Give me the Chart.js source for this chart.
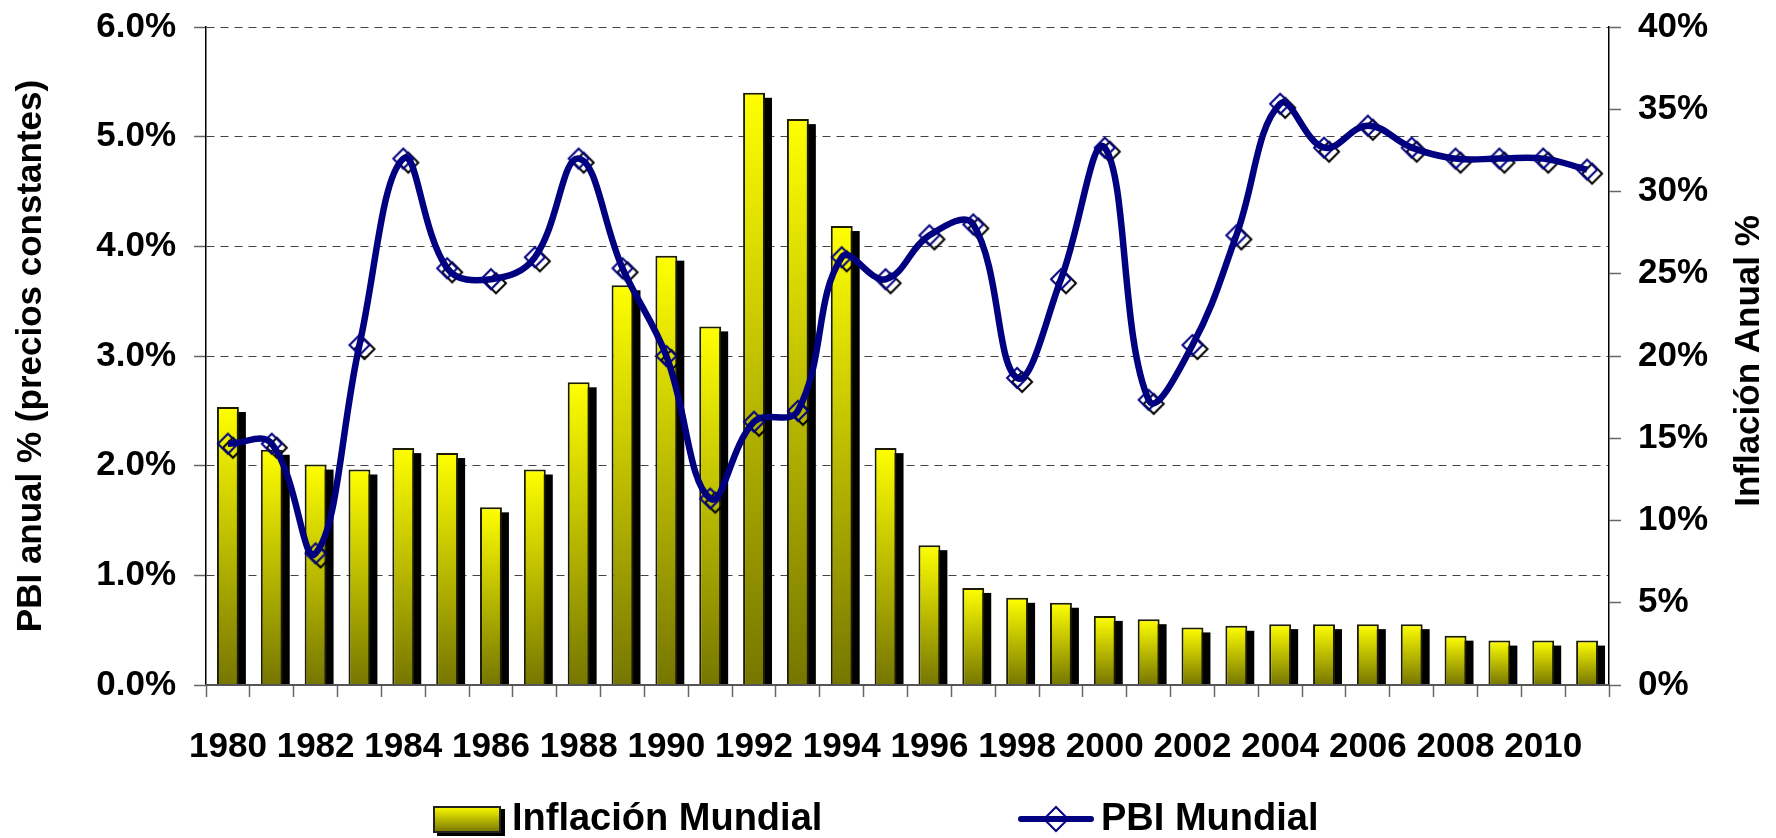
<!DOCTYPE html>
<html>
<head>
<meta charset="utf-8">
<script src="https://cdn.jsdelivr.net/npm/chart.js@4.4.1/dist/chart.umd.min.js"></script>
<style>
    html, body { margin: 0; padding: 0; background: #fff; }
    #contenedor { width: 1776px; height: 838px; }
</style>
</head>
<body>
<div id="contenedor"><canvas id="chartPbiInflacion"></canvas></div>
<script>
// ==========================================
// PBI MUNDIAL vs INFLACIÓN MUNDIAL 1980-2011
// ==========================================

const anios = ['1980', '1981', '1982', '1983', '1984', '1985', '1986', '1987',
    '1988', '1989', '1990', '1991', '1992', '1993', '1994', '1995',
    '1996', '1997', '1998', '1999', '2000', '2001', '2002', '2003',
    '2004', '2005', '2006', '2007', '2008', '2009', '2010', '2011'];

// Inflación anual % (eje derecho)
const inflacionMundial = [16.9, 14.3, 13.4, 13.1, 14.4, 14.1, 10.8, 13.1,
    18.4, 24.3, 26.1, 21.8, 36.0, 34.4, 27.9, 14.4,
    8.5, 5.9, 5.3, 5.0, 4.2, 4.0, 3.5, 3.6,
    3.7, 3.7, 3.7, 3.7, 3.0, 2.7, 2.7, 2.7];

// PBI anual % a precios constantes (eje izquierdo)
const pbiMundial = [2.2, 2.2, 1.2, 3.1, 4.8, 3.8, 3.7, 3.9,
    4.8, 3.8, 3.0, 1.7, 2.4, 2.5, 3.9, 3.7,
    4.1, 4.2, 2.8, 3.7, 4.9, 2.6, 3.1, 4.1,
    5.3, 4.9, 5.1, 4.9, 4.8, 4.8, 4.8, 4.7];

const FUENTE = "'Liberation Sans', Arial, sans-serif";
const AZUL = '#000080';

/**
 * Marcador rombo con sombra negra (como en Excel)
 */
function crearRombo(r, conLinea) {
    const c = document.createElement('canvas');
    c.width = conLinea ? 76 : 36;
    c.height = 34;
    const g = c.getContext('2d');
    const cx = c.width / 2, cy = 17;
    const rombo = (x, y, color) => {
        g.beginPath();
        g.moveTo(x, y - r);
        g.lineTo(x + r, y);
        g.lineTo(x, y + r);
        g.lineTo(x - r, y);
        g.closePath();
        g.lineWidth = 2;
        g.strokeStyle = color;
        g.stroke();
    };
    if (conLinea) {
        g.beginPath();
        g.moveTo(3, cy);
        g.lineTo(c.width - 3, cy);
        g.lineWidth = 6;
        g.lineCap = 'round';
        g.strokeStyle = AZUL;
        g.stroke();
        rombo(cx, cy, AZUL);
    } else {
        rombo(cx + 5, cy + 4, '#000');
        rombo(cx, cy, AZUL);
    }
    return c;
}

const marcador = crearRombo(10, false);
const marcadorLeyenda = crearRombo(12, true);

// degradado amarillo -> oliva por barra
function degradadoBarra(context) {
    const chart = context.chart;
    const area = chart.chartArea;
    if (!area || context.dataIndex === undefined || !chart.scales.y2) return '#ffff00';
    const yTop = chart.scales.y2.getPixelForValue(inflacionMundial[context.dataIndex]);
    const g = chart.ctx.createLinearGradient(0, yTop, 0, area.bottom);
    g.addColorStop(0, '#ffff00');
    g.addColorStop(1, '#767600');
    return g;
}

// sombra negra detrás de cada barra
const sombraBarras = {
    id: 'sombraBarras',
    beforeDatasetDraw(chart, args) {
        if (args.meta.type !== 'bar') return;
        const ctx = chart.ctx;
        const area = chart.chartArea;
        ctx.save();
        ctx.beginPath();
        ctx.rect(area.left, area.top, area.right - area.left, area.bottom - area.top);
        ctx.clip();
        ctx.fillStyle = '#000';
        args.meta.data.forEach(bar => {
            const p = bar.getProps(['x', 'y', 'width', 'base'], true);
            ctx.fillRect(p.x - p.width / 2 + 7, p.y + 5, p.width, p.base - p.y);
        });
        ctx.restore();
    }
};

// título del eje derecho (de abajo hacia arriba) y leyenda inferior
const textosExtra = {
    id: 'textosExtra',
    afterDraw(chart) {
        const ctx = chart.ctx;
        const area = chart.chartArea;
        ctx.save();
        ctx.fillStyle = '#000';
        ctx.font = 'bold 35px ' + FUENTE;
        ctx.textAlign = 'center';
        ctx.textBaseline = 'middle';
        ctx.translate(1749, (area.top + area.bottom) / 2 + 5);
        ctx.rotate(-Math.PI / 2);
        ctx.fillText('Inflación Anual %', 0, 0);
        ctx.restore();

        // leyenda
        ctx.save();
        const yL = 819;
        const xBox = 433;
        const g = ctx.createLinearGradient(0, yL - 13, 0, yL + 13);
        g.addColorStop(0, '#ffff00');
        g.addColorStop(1, '#767600');
        ctx.fillStyle = '#000';
        ctx.fillRect(xBox + 4, yL - 10, 68, 27);
        ctx.fillStyle = g;
        ctx.fillRect(xBox, yL - 13, 68, 27);
        ctx.lineWidth = 2;
        ctx.strokeStyle = '#222';
        ctx.strokeRect(xBox + 1, yL - 12, 66, 25);
        ctx.fillStyle = '#000';
        ctx.font = 'bold 38px ' + FUENTE;
        ctx.textAlign = 'left';
        ctx.textBaseline = 'middle';
        ctx.fillText('Inflación Mundial', 512, yL + 1);
        ctx.drawImage(marcadorLeyenda, 1018, yL - 17);
        ctx.fillText('PBI Mundial', 1101, yL + 1);
        ctx.restore();
    }
};

function createPbiInflacionChart() {
    const ctx = document.getElementById('chartPbiInflacion').getContext('2d');

    new Chart(ctx, {
        data: {
            labels: anios,
            datasets: [
                {
                    type: 'bar',
                    label: 'Inflación Mundial',
                    data: inflacionMundial,
                    yAxisID: 'y2',
                    backgroundColor: degradadoBarra,
                    borderColor: '#1c1c00',
                    borderWidth: 2,
                    barPercentage: 0.5,
                    categoryPercentage: 1,
                    order: 3
                },
                {
                    type: 'line',
                    label: 'PBI Mundial (marcadores)',
                    data: pbiMundial,
                    yAxisID: 'y',
                    showLine: false,
                    pointStyle: marcador,
                    pointRadius: 10,
                    order: 2
                },
                {
                    type: 'line',
                    label: 'PBI Mundial',
                    data: pbiMundial,
                    yAxisID: 'y',
                    borderColor: AZUL,
                    borderWidth: 6.5,
                    tension: 0.4,
                    pointRadius: 0,
                    fill: false,
                    order: 1
                }
            ]
        },
        options: {
            responsive: true,
            maintainAspectRatio: false,
            animation: false,
            layout: { padding: { top: 27, left: 0, right: 0, bottom: 73 } },
            plugins: {
                legend: { display: false },
                tooltip: { enabled: false }
            },
            scales: {
                x: {
                    offset: true,
                    grid: {
                        offset: true,
                        drawOnChartArea: false,
                        drawTicks: true,
                        tickLength: 12,
                        tickColor: '#666',
                        tickWidth: 1.5
                    },
                    border: { color: '#555', width: 2, z: 1 },
                    ticks: {
                        autoSkip: false,
                        maxRotation: 0,
                        padding: 29,
                        color: '#000',
                        font: { family: FUENTE, size: 35, weight: 'bold' },
                        callback: (v, i) => (i % 2 === 0 ? anios[i] : '')
                    },
                    afterFit: (scale) => { scale.height = 80; }
                },
                y: {
                    position: 'left',
                    min: 0,
                    max: 6,
                    ticks: {
                        stepSize: 1,
                        padding: 18,
                        color: '#000',
                        font: { family: FUENTE, size: 35, weight: 'bold' },
                        callback: (v) => v.toFixed(1) + '%'
                    },
                    grid: {
                        color: '#444',
                        lineWidth: 1,
                        tickLength: 12,
                        tickColor: '#666',
                        tickWidth: 1.5
                    },
                    border: { color: '#000', width: 1.5, dash: [8, 6] },
                    title: {
                        display: true,
                        text: 'PBI anual % (precios constantes)',
                        color: '#000',
                        font: { family: FUENTE, size: 35, weight: 'bold' },
                        padding: { top: 10, bottom: 0 }
                    },
                    afterFit: (scale) => {
                        scale.width = 206;
                        scale.paddingTop = 0;
                        scale.paddingBottom = 0;
                    }
                },
                y2: {
                    position: 'right',
                    min: 0,
                    max: 40,
                    ticks: {
                        stepSize: 5,
                        padding: 17,
                        color: '#000',
                        font: { family: FUENTE, size: 35, weight: 'bold' },
                        callback: (v) => v + '%'
                    },
                    grid: {
                        drawOnChartArea: false,
                        tickLength: 12,
                        tickColor: '#666',
                        tickWidth: 1.5
                    },
                    border: { color: '#000', width: 1.5 },
                    afterFit: (scale) => {
                        scale.width = 167;
                        scale.paddingTop = 0;
                        scale.paddingBottom = 0;
                    }
                }
            }
        },
        plugins: [sombraBarras, textosExtra]
    });
}

createPbiInflacionChart();
</script>
</body>
</html>
